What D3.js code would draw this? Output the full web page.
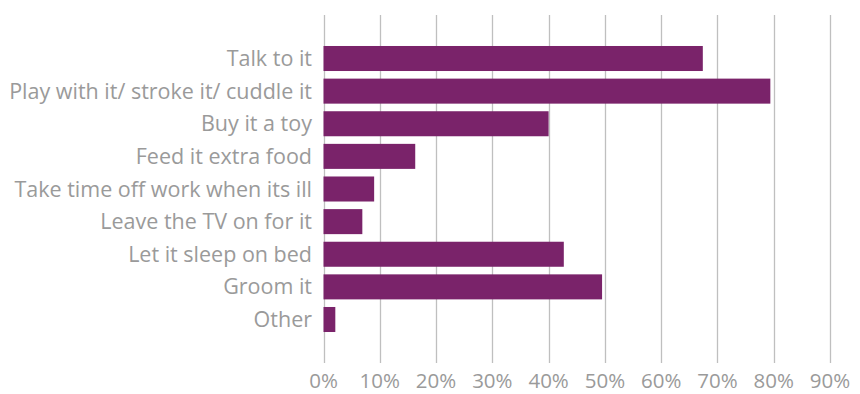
<!DOCTYPE html>
<html><head><meta charset="utf-8">
<script src="https://cdn.jsdelivr.net/npm/d3@7"></script>
<style>body{margin:0;background:#fff}svg{display:block}</style>
</head><body>
<svg id="c" width="860" height="394"></svg>
<script>
const categories = ["Talk to it","Play with it/ stroke it/ cuddle it","Buy it a toy","Feed it extra food","Take time off work when its ill","Leave the TV on for it","Let it sleep on bed","Groom it","Other"];
const values = [67.4, 79.4, 40.0, 16.3, 9.0, 6.9, 42.7, 49.5, 2.1];
const ticks = [0,10,20,30,40,50,60,70,80,90];

const svg = d3.select("#c");
const x = d3.scaleLinear().domain([0,90]).range([323.5, 830]);
const y = d3.scaleBand().domain(categories).range([15, 363]).paddingInner(0.233).paddingOuter(0.95);
const font = "'Open Sans', sans-serif";
const grey = "#9a9a9a";

svg.append("g").selectAll("line").data(ticks).join("line")
  .attr("x1", d => Math.round(x(d)) + 0.5).attr("x2", d => Math.round(x(d)) + 0.5)
  .attr("y1", 15).attr("y2", 363)
  .attr("stroke", "#bfbfbf").attr("stroke-width", 1.3);

svg.append("g").selectAll("rect").data(categories).join("rect")
  .attr("x", x(0)).attr("y", d => y(d))
  .attr("width", (d,i) => x(values[i]) - x(0))
  .attr("height", y.bandwidth())
  .attr("fill", "#7a236a");

svg.append("g").selectAll("text").data(categories).join("text")
  .attr("x", 312).attr("y", d => y(d) + y.bandwidth()/2)
  .attr("dy", "0.35em").attr("text-anchor", "end")
  .attr("font-family", font).attr("font-size", 21.5).attr("fill", grey)
  .text(d => d);

svg.append("g").selectAll("text").data(ticks).join("text")
  .attr("x", d => x(d)).attr("y", 388)
  .attr("text-anchor", "middle")
  .attr("font-family", font).attr("font-size", 20.5).attr("fill", grey)
  .text(d => d + "%");
</script>
</body></html>
